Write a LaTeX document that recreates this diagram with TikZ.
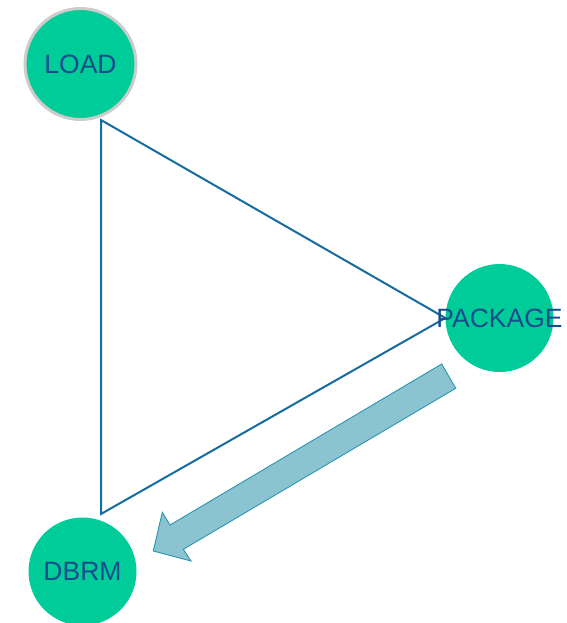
\documentclass[tikz,border=0pt]{standalone}
\usepackage{fontspec}
\setmainfont{Liberation Sans}
\usetikzlibrary{calc}
\definecolor{stepgreen}{RGB}{0,204,153}
\definecolor{labelblue}{RGB}{24,76,140}
\definecolor{edgeblue}{RGB}{20,108,160}
\definecolor{arrowfill}{RGB}{140,195,209}
\definecolor{arrowedge}{RGB}{38,150,176}
\definecolor{ringgray}{RGB}{204,204,204}
\begin{document}
\begin{tikzpicture}[x=1pt,y=-1pt,
  stage/.style={circle, fill=stepgreen, draw=none, inner sep=0pt,
    minimum size=108pt, text=labelblue,
    font=\fontsize{26.5}{31}\selectfont},
  cycleline/.style={draw=edgeblue, line width=2pt, line join=miter},
  flowarrow/.style={fill=arrowfill, draw=arrowedge, line width=0.9pt, line join=miter}]
  \useasboundingbox (0,0) rectangle (566,623);

  % three stages
  \node[stage, draw=ringgray, line width=3pt, minimum size=111pt] (load) at (80.5,64) {LOAD};
  \node[stage] (package) at (499.5,318) {};
  \node[stage] (dbrm) at (82.5,571.5) {DBRM};

  % triangle linking the stages
  \coordinate (ltop) at ($(load.center)+(20.5,56)$);
  \coordinate (lbot) at ($(dbrm.center)+(18.5,-57.5)$);
  \draw[cycleline] (ltop) -- (package.west) -- (lbot) -- cycle;

  % label on top of the triangle corner
  \node[text=labelblue, font=\fontsize{26.5}{31}\selectfont, inner sep=0pt]
    (packagelabel) at (package.center) {PACKAGE};

  % block arrow from PACKAGE towards DBRM
  \coordinate (ta) at (441.7,364);
  \coordinate (tb) at (455.7,388.3);
  \coordinate (sb) at (183.3,549.3);
  \coordinate (hb) at (191,561);
  \coordinate (tip) at (153.3,551);
  \coordinate (ha) at (162.3,512.3);
  \coordinate (sa) at (170,525);
  \draw[flowarrow] (ta) -- (tb) -- (sb) -- (hb) -- (tip) -- (ha) -- (sa) -- cycle;
\end{tikzpicture}
\end{document}
